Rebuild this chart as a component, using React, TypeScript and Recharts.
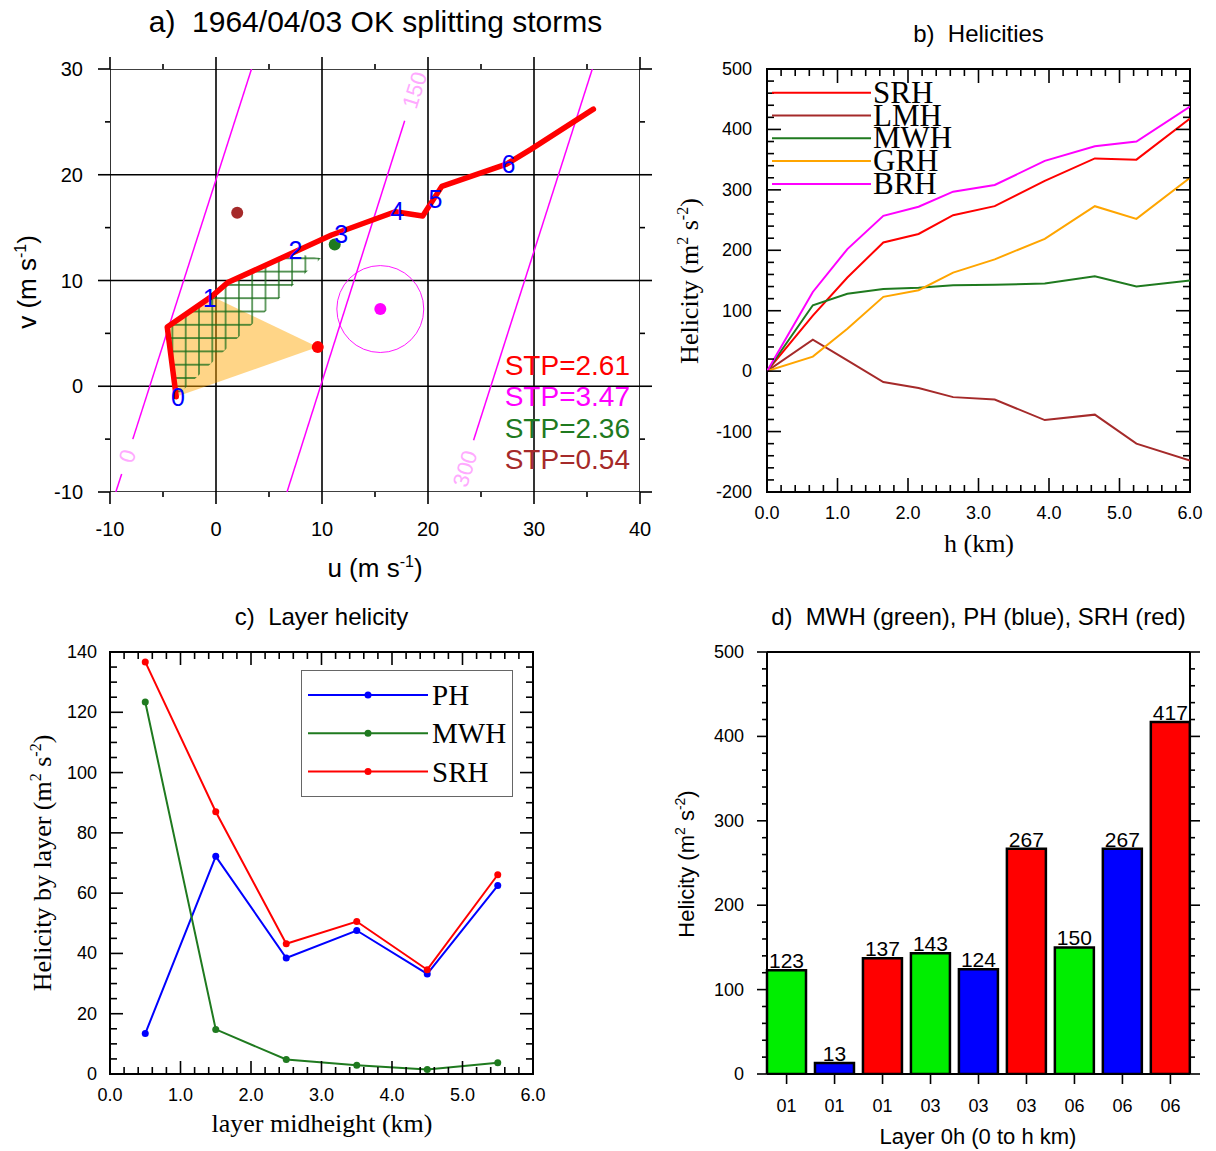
import React from 'react';
import {
  ScatterChart, LineChart, BarChart, Scatter, Line, Bar, Cell, LabelList,
  XAxis, YAxis, ReferenceArea, Legend,
} from 'recharts';

const SANS = '"Liberation Sans", Arial, Helvetica, sans-serif';
const SERIF = '"Liberation Serif", "Times New Roman", Times, serif';

/* ================= Panel a : hodograph ================= */
const hodoU = [-3.75, -4.6, -0.4, 1.1, 7.2, 10.9, 16.9, 19.5, 21.3, 27.4, 29.7, 35.6];
const hodoV = [-1.0, 5.6, 8.5, 9.8, 12.6, 14.3, 16.5, 16.1, 18.9, 21.0, 22.4, 26.2];
const hgtLabelText = ['0', '1', '2', '3', '4', '5', '6'];
const hgtLabelU = [-3.6, -0.6, 7.5, 11.8, 17.1, 20.7, 27.6];
const hgtLabelV = [-1.0, 8.3, 12.9, 14.4, 16.6, 17.7, 21.0];
const stormNames = ['RM', 'BRH', 'MW', 'LM'];
const stormU = [9.6, 15.5, 11.2, 2.0];
const stormV = [3.7, 7.3, 13.4, 16.4];
const stormColor = ['#ff0000', '#ff00ff', '#1f7a1f', '#a52a2a'];
const brhCircleRadius = 4.1;
const stpText = ['STP=2.61', 'STP=3.47', 'STP=2.36', 'STP=0.54'];
const contourSegU = [[-9.45, -8.9], [-7.85, 3.35], [6.7, 17.8], [24.3, 35.5]];
const contourSegV = [[-10, -8.3], [-5.0, 30], [-10, 25.1], [-5.1, 30]];
const contourLabelText = ['0', '150', '300'];
const contourLabelU = [-8.35, 18.75, 23.5];
const contourLabelV = [-6.6, 28.0, -7.8];
const srhAreaCount = 3;
const mwhAreaCount = 5;
const mwhAreaEndU = 9.9;
const mwhAreaEndV = 12.1;
const aDomainU = [-10, 40];
const aDomainV = [-10, 30];
const aTicksU = [-10, -5, 0, 5, 10, 15, 20, 25, 30, 35, 40];
const aTicksV = [-10, -5, 0, 5, 10, 15, 20, 25, 30];
const aGridU = [-10, 0, 10, 20, 30, 40];
const aGridV = [-10, 0, 10, 20, 30];

/* ================= Panel b : helicities ================= */
const bHeights = [0, 0.65, 1.14, 1.65, 2.15, 2.64, 3.23, 3.94, 4.65, 5.24, 6.0];
const bSRH = [0, 92, 155, 213, 227, 258, 273, 315, 352, 350, 418];
const bLMH = [0, 52, 18, -18, -28, -43, -47, -81, -72, -120, -148];
const bMWH = [0, 109, 128, 136, 138, 142, 143, 145, 157, 140, 150];
const bGRH = [0, 24, 70, 123, 134, 163, 185, 219, 273, 252, 320];
const bBRH = [0, 131, 202, 257, 272, 297, 308, 348, 372, 380, 438];
const bKeys = ['srh', 'lmh', 'mwh', 'grh', 'brh'];
const bNames = ['SRH', 'LMH', 'MWH', 'GRH', 'BRH'];
const bColors = ['#ff0000', '#a52a2a', '#1f7a1f', '#ffa500', '#ff00ff'];

/* ================= Panel c : layer helicity ================= */
const cMid = [0.5, 1.5, 2.5, 3.5, 4.5, 5.5];
const cPH = [13.4, 72.2, 38.5, 47.6, 33.2, 62.5];
const cMWH = [123.4, 14.8, 4.8, 2.9, 1.5, 3.7];
const cSRH = [136.7, 87.0, 43.2, 50.6, 34.6, 66.1];
const cKeys = ['ph', 'mwh', 'srh'];
const cNames = ['PH', 'MWH', 'SRH'];
const cColors = ['#0000ff', '#1f7a1f', '#ff0000'];

/* ================= Panel d : bars ================= */
const dLayers = ['01', '01', '01', '03', '03', '03', '06', '06', '06'];
const dValues = [123, 13, 137, 143, 124, 267, 150, 267, 417];
const dKinds = ['MWH', 'PH', 'SRH', 'MWH', 'PH', 'SRH', 'MWH', 'PH', 'SRH'];
const dKindColor: Record<string, string> = { MWH: '#00ee00', PH: '#0000ff', SRH: '#ff0000' };

/* ================= titles ================= */
const NB = '\u00a0';
const titleA = `a)${NB} 1964/04/03 OK splitting storms`;
const titleB = `b)${NB} Helicities`;
const titleC = `c)${NB} Layer helicity`;
const titleD = `d)${NB} MWH (green), PH (blue), SRH (red)`;

/* ================= helpers ================= */
const stepTicks = (a: number, b: number, s: number) =>
  Array.from({ length: Math.round((b - a) / s) + 1 }, (_, i) => +(a + i * s).toFixed(6));

type TickCfg = {
  side: 'x' | 'y'; step: number; majorLen: number; minorLen: number; inward: boolean;
  opp: number; gap: number; fontSize: number; fmt: (v: any) => string; sw?: number;
};
function makeTick(c: TickCfg) {
  return (props: any) => {
    const { x, y, payload } = props;
    const v = payload ? payload.value : undefined;
    const isMaj = typeof v !== 'number' || Math.abs(v / c.step - Math.round(v / c.step)) < 1e-6;
    const len = isMaj ? c.majorLen : c.minorLen;
    const s = c.inward ? -1 : 1;
    const sw = c.sw ?? 1.6;
    if (c.side === 'x') {
      return (
        <g>
          {len > 0 ? <line x1={x} x2={x} y1={y} y2={y + s * len} stroke="#000" strokeWidth={sw} /> : null}
          {c.opp && len > 0 ? <line x1={x} x2={x} y1={y - c.opp} y2={y - c.opp - s * len} stroke="#000" strokeWidth={sw} /> : null}
          {isMaj ? (
            <text x={x} y={y + c.gap} textAnchor="middle" dominantBaseline="central" fontFamily={SANS} fontSize={c.fontSize} fill="#000">{c.fmt(v)}</text>
          ) : null}
        </g>
      );
    }
    return (
      <g>
        {len > 0 ? <line x1={x} x2={x - s * len} y1={y} y2={y} stroke="#000" strokeWidth={sw} /> : null}
        {c.opp && len > 0 ? <line x1={x + c.opp} x2={x + c.opp + s * len} y1={y} y2={y} stroke="#000" strokeWidth={sw} /> : null}
        {isMaj ? (
          <text x={x - c.gap} y={y} textAnchor="end" dominantBaseline="central" fontFamily={SANS} fontSize={c.fontSize} fill="#000">{c.fmt(v)}</text>
        ) : null}
      </g>
    );
  };
}

const Blank = () => <g />;
const pts = (us: number[], vs: number[]) => us.map((u, i) => ({ u, v: vs[i] }));

const hatchLine = (p: any) => {
  const list = p.points || [];
  const d = list.map((q: any, i: number) => `${i ? 'L' : 'M'}${q.x},${q.y}`).join(' ') + ' Z';
  return (
    <g>
      <defs>
        <pattern id="mwhHatch" patternUnits="userSpaceOnUse" x={6.15} y={-1.05} width={13.3} height={13.3}>
          <path d="M0,6.65H13.3M6.65,0V13.3" stroke="#1b6e1b" strokeWidth={1.3} fill="none" />
        </pattern>
      </defs>
      <path d={d} fill="url(#mwhHatch)" stroke="none" />
    </g>
  );
};

const circleLine = (p: any) => {
  const list = p.points || [];
  if (list.length < 2) return <g />;
  const r = Math.hypot(list[1].x - list[0].x, list[1].y - list[0].y);
  return <circle cx={list[0].x} cy={list[0].y} r={r} fill="none" stroke="#ff00ff" strokeWidth={0.9} />;
};

/* ================= Panel a ================= */
function PanelA() {
  const PW = 530, PH = 423;
  const tickX = makeTick({ side: 'x', step: 10, majorLen: 12, minorLen: 5, inward: false, opp: PH, gap: 37, fontSize: 20, fmt: (v) => String(v) });
  const tickY = makeTick({ side: 'y', step: 10, majorLen: 12, minorLen: 5, inward: false, opp: PW, gap: 27, fontSize: 20, fmt: (v) => String(v) });
  const hodo = pts(hodoU, hodoV);
  const srhPoly = [{ u: stormU[0], v: stormV[0] }, ...hodo.slice(0, srhAreaCount)];
  const mwhPoly = [...hodo.slice(0, mwhAreaCount), { u: mwhAreaEndU, v: mwhAreaEndV }];
  const circle = [{ u: stormU[1], v: stormV[1] }, { u: stormU[1] + brhCircleRadius, v: stormV[1] }];
  const hgt = hgtLabelText.map((label, i) => ({ u: hgtLabelU[i], v: hgtLabelV[i], label }));
  const cLab = contourLabelText.map((label, i) => ({ u: contourLabelU[i], v: contourLabelV[i], label }));
  return (
    <ScatterChart width={660} height={600} margin={{ top: 69, right: 20, bottom: 58, left: 50 }}>
      <XAxis type="number" dataKey="u" domain={aDomainU} ticks={aTicksU} interval={0} allowDataOverflow
        axisLine={false} tickLine={false} tickSize={0} tickMargin={0} height={50} tick={tickX} />
      <YAxis type="number" dataKey="v" domain={aDomainV} ticks={aTicksV} interval={0} allowDataOverflow
        axisLine={false} tickLine={false} tickSize={0} tickMargin={0} width={60} tick={tickY} />
      {aGridU.map((u) => (
        <Scatter key={'gu' + u} data={[{ u, v: aDomainV[0] }, { u, v: aDomainV[1] }]} line={{ stroke: '#000', strokeWidth: 1.6 }} shape={Blank} isAnimationActive={false} />
      ))}
      {aGridV.map((v) => (
        <Scatter key={'gv' + v} data={[{ u: aDomainU[0], v }, { u: aDomainU[1], v }]} line={{ stroke: '#000', strokeWidth: 1.6 }} shape={Blank} isAnimationActive={false} />
      ))}
      {contourSegU.map((us, i) => (
        <Scatter key={'cs' + i} data={pts(us, contourSegV[i])} line={{ stroke: '#ff00ff', strokeWidth: 1.5 }} shape={Blank} isAnimationActive={false} />
      ))}
      <Scatter data={cLab} isAnimationActive={false}
        shape={(p: any) => (
          <text x={p.cx} y={p.cy} transform={`rotate(-72.3 ${p.cx} ${p.cy})`} textAnchor="middle" dominantBaseline="central"
            fontFamily={SANS} fontSize={22} fill="#ffaaff">{p.payload.label}</text>
        )} />
      <Scatter data={circle} line={circleLine} shape={Blank} isAnimationActive={false} />
      <Scatter data={srhPoly} line={{ stroke: 'none', fill: '#ffa500', fillOpacity: 0.47 }} shape={Blank} isAnimationActive={false} />
      <Scatter data={mwhPoly} line={hatchLine} shape={Blank} isAnimationActive={false} />
      <Scatter data={hodo} line={{ stroke: '#ff0000', strokeWidth: 5.5, strokeLinejoin: 'round', strokeLinecap: 'round' }} shape={Blank} isAnimationActive={false} />
      {stormNames.map((n, i) => (
        <Scatter key={n} name={n} data={[{ u: stormU[i], v: stormV[i] }]} isAnimationActive={false}
          shape={(p: any) => <circle cx={p.cx} cy={p.cy} r={6} fill={stormColor[i]} />} />
      ))}
      <Scatter data={hgt} isAnimationActive={false}
        shape={(p: any) => (
          <text x={p.cx} y={p.cy} textAnchor="middle" dominantBaseline="central" fontFamily={SANS} fontSize={25} fill="#0000ff">{p.payload.label}</text>
        )} />
    </ScatterChart>
  );
}

/* ================= Panel b ================= */
function BLegend() {
  return (
    <svg width={230} height={130} style={{ overflow: 'visible', display: 'block' }}>
      {bNames.map((n, i) => {
        const y = 12.7 + i * 22.8;
        return (
          <g key={n}>
            <line x1={0} x2={99} y1={y} y2={y} stroke={bColors[i]} strokeWidth={2} />
            <text x={101} y={y + 10} fontFamily={SERIF} fontSize={31} fill="#000">{n}</text>
          </g>
        );
      })}
    </svg>
  );
}

function PanelB() {
  const PW = 423, PH = 423;
  const tickX = makeTick({ side: 'x', step: 1, majorLen: 14, minorLen: 7, inward: true, opp: PH, gap: 21, fontSize: 18, fmt: (v) => v.toFixed(1) });
  const tickY = makeTick({ side: 'y', step: 100, majorLen: 14, minorLen: 7, inward: true, opp: PW, gap: 15, fontSize: 18, fmt: (v) => String(v) });
  const series = [bSRH, bLMH, bMWH, bGRH, bBRH];
  const data = bHeights.map((h, i) => {
    const row: any = { h };
    bKeys.forEach((k, j) => { row[k] = series[j][i]; });
    return row;
  });
  return (
    <LineChart width={556} height={600} data={data} margin={{ top: 69, right: 26, bottom: 68, left: 57 }}>
      <XAxis type="number" dataKey="h" domain={[0, 6]} ticks={stepTicks(0, 6, 0.2)} interval={0} allowDataOverflow
        axisLine={false} tickLine={false} tickSize={0} tickMargin={0} height={40} tick={tickX} />
      <YAxis type="number" domain={[-200, 500]} ticks={stepTicks(-200, 500, 20)} interval={0} allowDataOverflow
        axisLine={false} tickLine={false} tickSize={0} tickMargin={0} width={50} tick={tickY} />
      <ReferenceArea x1={0} x2={6} y1={-200} y2={500} fill="none" stroke="#000" strokeWidth={2} />
      {bKeys.map((k, i) => (
        <Line key={k} type="linear" dataKey={k} name={bNames[i]} stroke={bColors[i]} strokeWidth={2} dot={false} isAnimationActive={false} />
      ))}
      <Legend layout="vertical" align="center" verticalAlign="middle"
        wrapperStyle={{ left: 112, top: 80, width: 230, height: 130 }} content={() => <BLegend />} />
    </LineChart>
  );
}

/* ================= Panel c ================= */
function CLegend() {
  return (
    <svg width={213} height={128} style={{ overflow: 'visible', display: 'block' }}>
      <rect x={0.5} y={0.5} width={211} height={126} fill="#fff" stroke="#666" strokeWidth={1} />
      {cNames.map((n, i) => {
        const y = 25 + i * 38.3;
        return (
          <g key={n}>
            <line x1={7} x2={127} y1={y} y2={y} stroke={cColors[i]} strokeWidth={2} />
            <circle cx={67} cy={y} r={3.5} fill={cColors[i]} />
            <text x={131} y={y + 10} fontFamily={SERIF} fontSize={29} fill="#000">{n}</text>
          </g>
        );
      })}
    </svg>
  );
}

function PanelC() {
  const PW = 423, PH = 422;
  const tickX = makeTick({ side: 'x', step: 1, majorLen: 13, minorLen: 7, inward: true, opp: PH, gap: 21, fontSize: 18, fmt: (v) => v.toFixed(1) });
  const tickY = makeTick({ side: 'y', step: 20, majorLen: 13, minorLen: 7, inward: true, opp: PW, gap: 13, fontSize: 18, fmt: (v) => String(v) });
  const series = [cPH, cMWH, cSRH];
  const data = cMid.map((m, i) => {
    const row: any = { m };
    cKeys.forEach((k, j) => { row[k] = series[j][i]; });
    return row;
  });
  return (
    <LineChart width={600} height={551} data={data} margin={{ top: 52, right: 67, bottom: 37, left: 60 }}>
      <XAxis type="number" dataKey="m" domain={[0, 6]} ticks={stepTicks(0, 6, 0.2)} interval={0} allowDataOverflow
        axisLine={false} tickLine={false} tickSize={0} tickMargin={0} height={40} tick={tickX} />
      <YAxis type="number" domain={[0, 140]} ticks={stepTicks(0, 140, 5)} interval={0} allowDataOverflow
        axisLine={false} tickLine={false} tickSize={0} tickMargin={0} width={50} tick={tickY} />
      <ReferenceArea x1={0} x2={6} y1={0} y2={140} fill="none" stroke="#000" strokeWidth={2} />
      {cKeys.map((k, i) => (
        <Line key={k} type="linear" dataKey={k} name={cNames[i]} stroke={cColors[i]} strokeWidth={2}
          dot={{ r: 3.5, fill: cColors[i], stroke: cColors[i], strokeWidth: 0 }} isAnimationActive={false} />
      ))}
      <Legend layout="vertical" align="center" verticalAlign="middle"
        wrapperStyle={{ left: 301, top: 70, width: 213, height: 128 }} content={() => <CLegend />} />
    </LineChart>
  );
}

/* ================= Panel d ================= */
function PanelD() {
  const PW = 423;
  const tickX = makeTick({ side: 'x', step: 1, majorLen: 10, minorLen: 10, inward: false, opp: 0, gap: 32, fontSize: 18, fmt: (v) => String(v) });
  const tickY = makeTick({ side: 'y', step: 100, majorLen: 10, minorLen: 5, inward: false, opp: PW, gap: 23, fontSize: 18, fmt: (v) => String(v) });
  const data = dLayers.map((layer, i) => ({ layer, value: dValues[i], kind: dKinds[i] }));
  const frame = { stroke: '#000', strokeWidth: 2 };
  return (
    <BarChart width={556} height={551} data={data} margin={{ top: 51, right: 25, bottom: 37, left: 57 }} barCategoryGap={4.4}>
      <XAxis dataKey="layer" interval={0} padding={{ left: -4.4, right: -4.4 }} axisLine={frame}
        tickLine={false} tickSize={0} tickMargin={0} height={40} tick={tickX} />
      <XAxis xAxisId="top" orientation="top" dataKey="layer" height={1} tick={false} tickLine={false} axisLine={frame} />
      <YAxis type="number" domain={[0, 500]} ticks={stepTicks(0, 500, 20)} interval={0} allowDataOverflow
        axisLine={frame} tickLine={false} tickSize={0} tickMargin={0} width={50} tick={tickY} />
      <YAxis yAxisId="right" orientation="right" type="number" domain={[0, 500]} width={1} tick={false} tickLine={false} axisLine={frame} />
      <Bar dataKey="value" stroke="#000" strokeWidth={2.5} isAnimationActive={false}>
        {data.map((d, i) => <Cell key={i} fill={dKindColor[d.kind]} />)}
        <LabelList dataKey="value" position="top" offset={2} fill="#000" fontSize={21} fontFamily={SANS} />
      </Bar>
    </BarChart>
  );
}

/* ================= texts ================= */
function Overlay() {
  return (
    <svg width={1216} height={1151} style={{ position: 'absolute', left: 0, top: 0, pointerEvents: 'none' }}>
      <text x={375.5} y={32} textAnchor="middle" fontFamily={SANS} fontSize={30} fill="#000">{titleA}</text>
      <text x={978.5} y={42} textAnchor="middle" fontFamily={SANS} fontSize={24} fill="#000">{titleB}</text>
      <text x={321.5} y={625} textAnchor="middle" fontFamily={SANS} fontSize={24} fill="#000">{titleC}</text>
      <text x={978.5} y={625} textAnchor="middle" fontFamily={SANS} fontSize={24} fill="#000">{titleD}</text>
      {/* panel a axis titles */}
      <text x={375} y={577} textAnchor="middle" fontFamily={SANS} fontSize={26} fill="#000">
        u (m s<tspan dy={-10} fontSize={16}>-1</tspan><tspan dy={10}>)</tspan>
      </text>
      <text x={36} y={282} transform="rotate(-90 36 282)" textAnchor="middle" fontFamily={SANS} fontSize={26} fill="#000">
        v (m s<tspan dy={-10} fontSize={16}>-1</tspan><tspan dy={10}>)</tspan>
      </text>
      {/* STP labels */}
      {stpText.map((t, i) => (
        <text key={t} x={630} y={375 + i * 31.4} textAnchor="end" fontFamily={SANS} fontSize={28} fill={stormColor[i]}>{t}</text>
      ))}
      {/* panel b axis titles */}
      <text x={979} y={552} textAnchor="middle" fontFamily={SERIF} fontSize={26} fill="#000">h (km)</text>
      <text x={698} y={281} transform="rotate(-90 698 281)" textAnchor="middle" fontFamily={SERIF} fontSize={26} fill="#000">
        Helicity (m<tspan dy={-10} fontSize={16}>2</tspan><tspan dy={10}> s</tspan><tspan dy={-10} fontSize={16}>-2</tspan><tspan dy={10}>)</tspan>
      </text>
      {/* panel c axis titles */}
      <text x={322} y={1132} textAnchor="middle" fontFamily={SERIF} fontSize={26} fill="#000">layer midheight (km)</text>
      <text x={51} y={863} transform="rotate(-90 51 863)" textAnchor="middle" fontFamily={SERIF} fontSize={26} fill="#000">
        Helicity by layer (m<tspan dy={-10} fontSize={16}>2</tspan><tspan dy={10}> s</tspan><tspan dy={-10} fontSize={16}>-2</tspan><tspan dy={10}>)</tspan>
      </text>
      {/* panel d axis titles */}
      <text x={978} y={1144} textAnchor="middle" fontFamily={SANS} fontSize={22} fill="#000">Layer 0h (0 to h km)</text>
      <text x={694} y={864} transform="rotate(-90 694 864)" textAnchor="middle" fontFamily={SANS} fontSize={22} fill="#000">
        Helicity (m<tspan dy={-9} fontSize={14}>2</tspan><tspan dy={9}> s</tspan><tspan dy={-9} fontSize={14}>-2</tspan><tspan dy={9}>)</tspan>
      </text>
    </svg>
  );
}

export default function App() {
  return (
    <div style={{ position: 'absolute', left: 0, top: 0, width: 1216, height: 1151, background: '#fff', overflow: 'hidden' }}>
      <div style={{ position: 'absolute', left: 0, top: 0 }}><PanelA /></div>
      <div style={{ position: 'absolute', left: 660, top: 0 }}><PanelB /></div>
      <div style={{ position: 'absolute', left: 0, top: 600 }}><PanelC /></div>
      <div style={{ position: 'absolute', left: 660, top: 600 }}><PanelD /></div>
      <Overlay />
    </div>
  );
}
